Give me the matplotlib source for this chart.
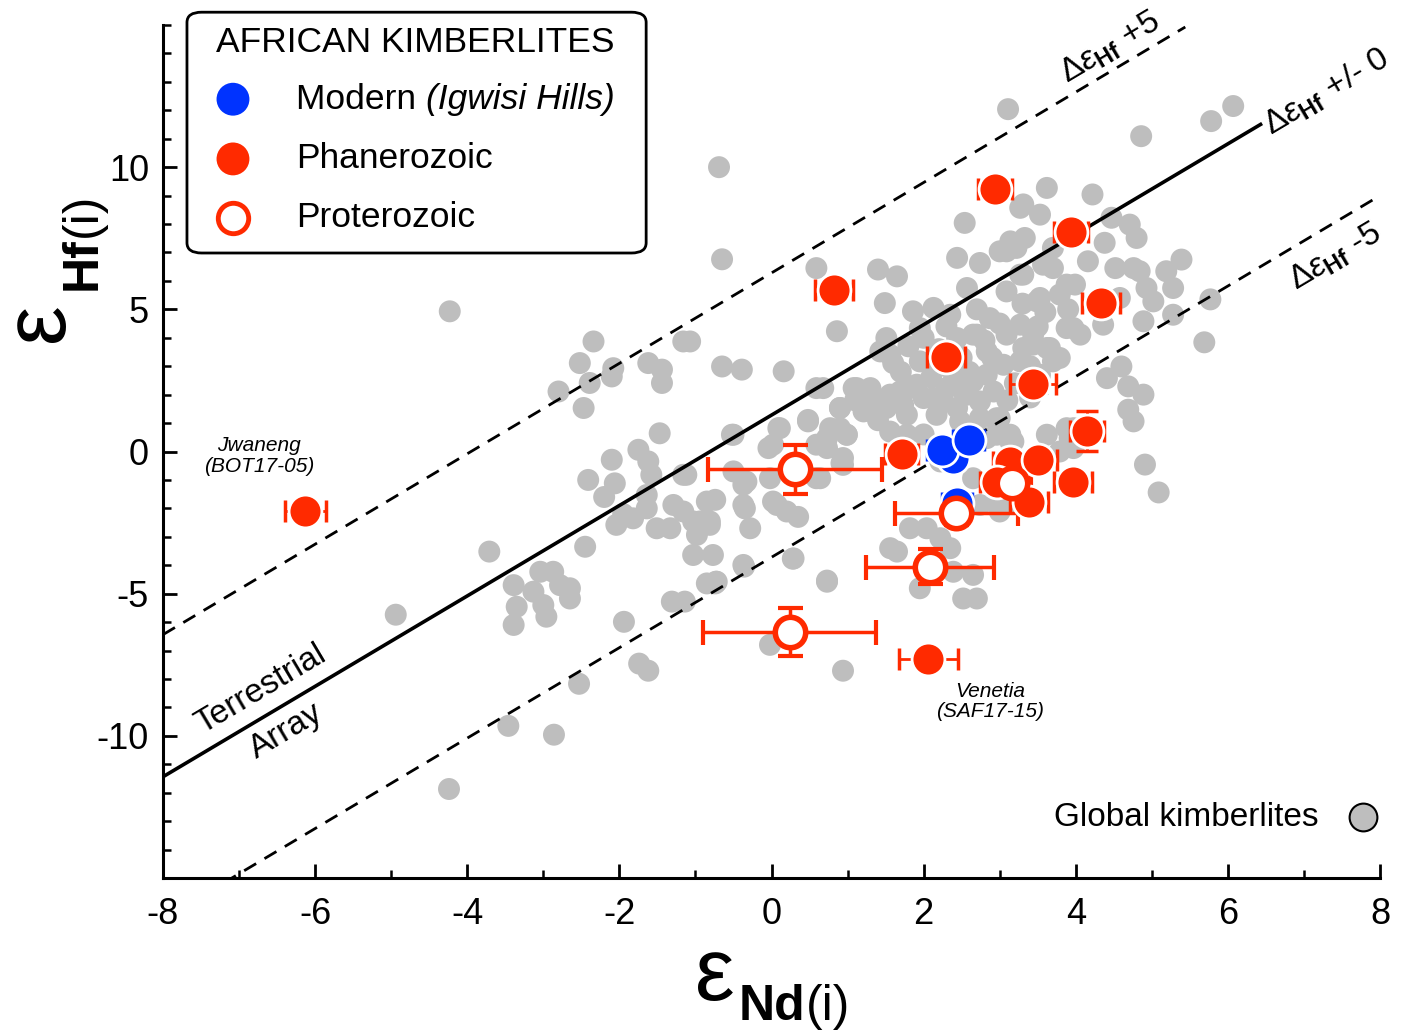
import numpy as np
import matplotlib
matplotlib.use("Agg")
import matplotlib.pyplot as plt
from matplotlib.patches import FancyBboxPatch
from matplotlib.ticker import MultipleLocator

plt.rcParams['font.family'] = ['Liberation Sans', 'DejaVu Sans']
plt.rcParams['mathtext.fontset'] = 'custom'
plt.rcParams['mathtext.rm'] = 'Liberation Sans'
plt.rcParams['mathtext.it'] = 'Liberation Sans:italic'
plt.rcParams['mathtext.bf'] = 'Liberation Sans:bold'
plt.rcParams['axes.unicode_minus'] = False

# ---------------- data ----------------
# Global kimberlites (grey)
global_nd = [-4.23, -4.24, -3.46, -2.86, -2.53, -4.94, -3.71, -0.69, -0.65, 3.11, 6.07, 5.78, 4.86,
             5.77, 5.69, 5.09, 4.91, 4.76, 0.94, -0.02, 0.73, 0.28, -1.62, -1.74, -1.94, -1.31, -1.14,
             -0.73, -0.36,
             -3.39, -3.35, -3.39, -3.04, -2.87, -2.78, -2.65, -2.65, -3.00, -2.96, -3.13, -2.45,
             -2.34, -2.52, -2.08, -2.10, -2.39, -2.80, -2.47, -1.16, -1.62, -1.44, -1.44, -1.47,
             -1.75, -1.62, -1.58, -2.10, -2.41, -2.06, -1.16, -1.64, -1.64, -2.04, -1.82, -1.51,
             -1.33, -1.29, -1.03, -1.03, -0.85, -0.85,
             0.59, 1.40, 1.65, 1.49, 0.86, -1.07, -0.65, -0.39, 0.16, 0.59, -0.52, 0.09, 0.48,
             0.90, 0.99, 0.77, 0.02, 0.59, 0.92, -0.50, -0.02, -0.37, 0.59, 0.02, 0.20, -0.74,
             -0.35, -0.28, -0.81, -0.98, -0.77, -0.37, -0.74, 0.29, 0.73,
             1.56, 1.78, 1.08, 1.30, 1.56, 1.73, 1.25, 1.38, 1.82, 2.00, 2.26, 2.44, 2.57, 2.74,
             2.96, 1.51, 1.56, 1.86, 2.13, 1.95, 2.35, 2.44, 2.70, 2.57, 2.44, 2.74, 2.54, 3.00,
             3.14, 3.27,
             3.22, 3.09, 3.31, 3.53, 3.70, 3.88, 3.97, 1.43, 1.60, 1.91, 1.95, 2.65, 2.87, 3.09,
             3.27, 3.44, 3.62, 3.79, 2.83, 3.05, 2.83, 2.65, 2.92, 2.74, 2.52, 2.30, 2.13, 1.69,
             1.51, 1.30, 1.12, 1.21, 1.78, 2.17, 2.48, 2.96, 2.96, 3.18, 0.90, 0.90, 0.73, 0.99,
             0.94, 0.68, 3.31, 3.53, 3.97,
             3.62, 4.22, 3.31, 3.53, 4.47, 4.71, 4.80, 4.38, 3.33, 3.09, 4.16, 3.70, 3.57, 3.27,
             4.52, 4.76, 4.84, 5.19, 5.39, 5.28, 4.93, 5.02, 5.28, 4.89, 3.99, 3.79, 3.49, 3.88,
             4.06, 4.36, 4.58, 3.66, 3.70, 3.44, 3.27, 4.60, 4.41, 4.69, 4.89, 4.69, 4.01, 3.88,
             3.00, 3.14,
             0.48, -0.50, 0.11, 0.73, -0.04, -0.33, 0.94, 0.64, -1.12, -0.37, 0.07, -1.16, -0.94,
             -0.81, -0.72, 1.56, 1.82, 2.04, 2.22, 2.35, 1.65, 1.95, 2.39, 2.65, 2.52, 2.70,
             3.92, 3.79, 2.83, 2.44, 2.22, 2.65, 2.92, 3.00, 3.18, 2.74, 3.14, 3.62, 3.97,
             2.20, 2.50, 2.80, 3.00, 2.30, 2.00, 2.60, 3.20, 3.40, 2.90, 2.40, 3.10, 1.80, 2.70,
             3.30, 3.60, 3.90, 3.50, 2.10, 1.70, 1.40, 1.10, 2.20, 3.40, 2.00, 0.35, -1.95, -2.20]
global_hf = [4.93, -11.87, -9.65, -9.96, -8.17, -5.74, -3.52, 10.00, 6.76, 12.04, 12.15, 11.62, 11.09,
             5.35, 3.84, -1.44, -0.46, 1.06, -7.71, -6.80, -4.54, -3.77, -7.71, -7.46, -5.99, -5.28, -5.28,
             -4.58, -4.05,
             -4.70, -5.46, -6.10, -4.23, -4.23, -4.70, -4.81, -5.17, -5.40, -5.81, -4.93, -3.35,
             3.87, 3.11, 2.93, 2.64, 2.41, 2.11, 1.53, 3.87, 3.11, 2.88, 2.41, 0.64,
             0.06, -0.35, -0.82, -0.29, -1.00, -1.12, -0.82, -1.53, -2.00, -2.58, -2.35, -2.70,
             -2.70, -1.88, -2.46, -3.64, -1.76, -4.64,
             6.45, 6.40, 6.16, 5.22, 4.23, 3.87, 2.99, 2.88, 2.82, 2.23, 0.59, 0.82, 1.06,
             1.53, 0.59, 0.82, 0.24, 0.24, -0.41, -0.70, -0.94, -1.17, -0.94, -1.76, -2.11, -1.70,
             -2.00, -2.70, -2.46, -2.93, -3.64, -3.99, -4.64, -3.76, -4.58,
             0.70, 0.59, 2.23, 2.23, 2.00, 1.64, 1.64, 1.29, 2.23, 1.88, 1.76, 1.53, 2.00, 1.17,
             1.06, 3.99, 3.40, 4.93, 5.05, 4.34, 4.81, 3.99, 4.11, 5.75, 6.81, 6.63, 8.04, 7.04,
             7.39, 8.57,
             7.16, 5.63, 6.22, 5.40, 6.45, 5.87, 4.34, 3.52, 3.11, 2.35, 3.17, 4.11, 4.69, 4.11,
             4.46, 4.11, 3.64, 3.29, 3.52, 3.05, 2.70, 2.46, 2.11, 1.76, 2.11, 2.23, 1.88, 2.11,
             1.53, 1.88, 2.23, 1.41, 1.29, 1.29, 1.06, 1.17, 0.59, 0.35, 1.53, 0.82, 0.47, 0.59,
             -0.23, 2.23, 3.64, 2.70, 0.82,
             9.27, 9.04, 8.69, 8.33, 8.22, 7.98, 7.51, 7.34, 7.51, 7.04, 6.69, 7.16, 6.57, 6.22,
             6.45, 6.45, 6.34, 6.34, 6.75, 5.75, 5.75, 5.28, 4.81, 4.58, 5.87, 5.52, 5.28, 4.34,
             4.11, 4.46, 5.40, 3.64, 3.17, 3.76, 3.17, 2.99, 2.58, 2.29, 2.00, 1.47, 0.35, 0.82,
             1.17, 0.35,
             1.11, 0.59, 0.82, 0.12, 0.12, -1.06, -0.47, -0.94, -0.82, -1.88, -1.88, -2.11, -2.46,
             -2.58, -4.58, -3.40, -2.70, -2.70, -3.05, -3.40, -3.52, -4.81, -4.23, -4.34, -5.17, -5.17,
             0.47, 0.00, 0.47, -0.23, -0.35, -0.94, -1.76, -2.11, -1.76, -1.88, 0.59, 0.59, 0.12,
             3.00, 3.30, 3.90, 4.50, 4.40, 4.00, 2.80, 2.40, 3.00, 3.30, 2.60, 1.80, 3.70, 5.00,
             5.20, 4.90, 5.00, 4.40, 2.60, 2.80, 1.10, 1.80, 3.60, 1.90, 0.60, -2.30, -2.20, -1.60]

# African kimberlites - Phanerozoic (filled red)
phan_nd = [-6.13, 0.82, 2.94, 3.94, 4.33, 2.29, 3.44, 1.71, 4.15, 3.96, 3.13, 3.51, 2.96, 3.38, 2.06]
phan_hf = [-2.08, 5.67, 9.23, 7.71, 5.21, 3.31, 2.36, -0.10, 0.72, -1.07, -0.38, -0.29, -1.06, -1.76, -7.29]
phan_xerr = [0.27, 0.25, 0.22, 0.22, 0.25, 0.25, 0.30, 0.22, 0.22, 0.25, 0.22, 0.25, 0.22, 0.25, 0.39]
phan_yerr = [0.0, 0.0, 0.0, 0.0, 0.0, 0.0, 0.0, 0.0, 0.70, 0.0, 0.0, 0.0, 0.0, 0.0, 0.0]

# Modern (Igwisi Hills) - blue
mod_nd = [2.39, 2.44, 2.24, 2.59]
mod_hf = [-0.24, -1.80, 0.06, 0.41]
mod_xerr = [0.15, 0.20, 0.20, 0.20]

# Proterozoic (open red)
prot_nd = [3.16, 0.31, 2.43, 2.08, 0.24]
prot_hf = [-1.12, -0.63, -2.15, -4.05, -6.34]
prot_xerr = [0.25, 1.14, 0.81, 0.84, 1.14]
prot_yerr = [0.0, 0.86, 0.45, 0.62, 0.85]

# Terrestrial array: eHf = 1.59 eNd + 1.28
ta_slope, ta_int = 1.59, 1.28
offsets = [5, 0, -5]
line_xmax = [5.44, 6.45, 7.97]

RED = '#FF2A00'
BLUE = '#0033FF'
GREY = '#BEBEBE'

fig = plt.figure(figsize=(14.08, 10.32), dpi=100)
ax = fig.add_axes([163/1408, 1-878/1032, (1380-163)/1408, (878-25)/1032])
ax.set_xlim(-8, 8)
ax.set_ylim(-15, 15)

# grey points
ax.scatter(global_nd, global_hf, s=250, c=GREY, edgecolors='none', zorder=2)

# reference lines
for off, xm in zip(offsets, line_xmax):
    xs = np.array([-8, xm])
    ys = ta_slope * xs + ta_int + off
    if off == 0:
        ax.plot(xs, ys, color='black', lw=2.6, zorder=3, solid_capstyle='butt')
    else:
        ax.plot(xs, ys, color='black', lw=2.0, dashes=(5, 3.5), zorder=3)

# error bars
ax.errorbar(phan_nd, phan_hf, xerr=phan_xerr, yerr=phan_yerr, fmt='none', ecolor=RED,
            elinewidth=2, capsize=8, capthick=2.5, zorder=4)
ax.errorbar(mod_nd, mod_hf, xerr=mod_xerr, fmt='none', ecolor=BLUE,
            elinewidth=2, capsize=8, capthick=2.5, zorder=4)
ax.errorbar(prot_nd, prot_hf, xerr=prot_xerr, yerr=prot_yerr, fmt='none', ecolor=RED,
            elinewidth=2.5, capsize=9, capthick=3, zorder=4)

ax.scatter(phan_nd, phan_hf, s=560, c=RED, edgecolors='white', linewidths=2, zorder=5)
ax.scatter(mod_nd, mod_hf, s=560, c=BLUE, edgecolors='white', linewidths=2, zorder=5)
ax.scatter(prot_nd, prot_hf, s=480, c='white', edgecolors=RED, linewidths=4, zorder=6)

# axes styling
for sp in ['top', 'right']:
    ax.spines[sp].set_visible(False)
for sp in ['left', 'bottom']:
    ax.spines[sp].set_linewidth(2.2)
ax.xaxis.set_major_locator(MultipleLocator(2))
ax.xaxis.set_minor_locator(MultipleLocator(1))
ax.yaxis.set_major_locator(MultipleLocator(5))
ax.yaxis.set_minor_locator(MultipleLocator(1))
ax.set_yticks([-10, -5, 0, 5, 10])
ax.tick_params(which='major', direction='in', length=10, width=2, labelsize=26, pad=10)
ax.tick_params(which='minor', direction='in', length=6, width=1.8)
ax.tick_params(axis='x', which='major', pad=14)

# ---- axis labels (big epsilon + subscript) ----
EPS_FS, SUB_FS = 64, 36
fig.text(735/1408, 1 - 1000/1032, '\u03b5', fontsize=EPS_FS, ha='right', va='baseline')
t_nd = fig.text(739/1408, 1 - 1020/1032, 'Nd', fontsize=SUB_FS, weight='bold',
                ha='left', va='baseline')
ax.annotate('(i)', xy=(1, 0), xycoords=t_nd, fontsize=SUB_FS, ha='left', va='bottom',
            annotation_clip=False)

fig.text(82/1408, 1 - 322/1032, '\u03b5', fontsize=EPS_FS, ha='right', va='center', rotation=90)
t_hf = fig.text(106/1408, 1 - 290/1032, 'Hf', fontsize=SUB_FS, weight='bold',
                ha='right', va='bottom', rotation=90)
ax.annotate('(i)', xy=(1, 1), xycoords=t_hf, fontsize=SUB_FS, ha='right', va='bottom',
            rotation=90, annotation_clip=False)

# line angle in screen coordinates
p1 = ax.transData.transform((0, ta_int))
p2 = ax.transData.transform((1, ta_int + ta_slope))
ang = np.degrees(np.arctan2(p2[1] - p1[1], p2[0] - p1[0]))

ax.text(4.45, 14.2, r'$\Delta\varepsilon_{\mathbf{Hf}}$ +5', fontsize=24, rotation=ang,
        ha='center', va='center', rotation_mode='anchor')
ax.text(7.3, 12.65, r'$\Delta\varepsilon_{\mathbf{Hf}}$ +/- 0', fontsize=24, rotation=ang,
        ha='center', va='center', rotation_mode='anchor')
ax.text(7.42, 6.85, r'$\Delta\varepsilon_{\mathbf{Hf}}$ -5', fontsize=24, rotation=ang,
        ha='center', va='center', rotation_mode='anchor')
ax.text(-6.72, -8.35, 'Terrestrial', fontsize=24, rotation=ang, ha='center', va='center',
        rotation_mode='anchor')
ax.text(-6.38, -9.85, 'Array', fontsize=24, rotation=ang, ha='center', va='center',
        rotation_mode='anchor')

ax.text(-6.74, -0.15, 'Jwaneng\n(BOT17-05)', fontsize=15, style='italic', ha='center',
        va='center', linespacing=1.1)
ax.text(2.87, -8.8, 'Venetia\n(SAF17-15)', fontsize=15, style='italic', ha='center',
        va='center', linespacing=1.1)

# Global kimberlites key
ax.text(0.9494, 0.0715, 'Global kimberlites', transform=ax.transAxes, fontsize=24,
        ha='right', va='center')
ax.scatter([0.986], [0.0715], s=400, c=GREY, edgecolors='black', linewidths=1.5,
           transform=ax.transAxes, clip_on=False, zorder=7)

# Legend box
box = FancyBboxPatch((0.0197, 0.7327), 0.397 - 0.0197, 1.015 - 0.7327,
                     boxstyle='round,pad=0,rounding_size=0.012', transform=ax.transAxes,
                     facecolor='white', edgecolor='black', linewidth=2, clip_on=False, zorder=8)
ax.add_patch(box)
ax.text(0.0436, 0.979, 'AFRICAN KIMBERLITES', transform=ax.transAxes, fontsize=25.5,
        ha='left', va='center', zorder=9)
leg_y = [0.913, 0.843, 0.774]
ax.scatter([0.0575], [leg_y[0]], s=560, c=BLUE, edgecolors='none', transform=ax.transAxes,
           clip_on=False, zorder=9)
ax.scatter([0.0575], [leg_y[1]], s=560, c=RED, edgecolors='none', transform=ax.transAxes,
           clip_on=False, zorder=9)
ax.scatter([0.0575], [leg_y[2]], s=480, c='white', edgecolors=RED, linewidths=3.5,
           transform=ax.transAxes, clip_on=False, zorder=9)
t_mod = ax.text(0.1093, leg_y[0], 'Modern ', transform=ax.transAxes, fontsize=25.5,
                ha='left', va='center', zorder=9)
ax.annotate('(Igwisi Hills)', xy=(1, 0.5), xycoords=t_mod, fontsize=25.5, style='italic',
            ha='left', va='center', zorder=9)
ax.text(0.1093, leg_y[1], 'Phanerozoic', transform=ax.transAxes, fontsize=25.5,
        ha='left', va='center', zorder=9)
ax.text(0.1093, leg_y[2], 'Proterozoic', transform=ax.transAxes, fontsize=25.5,
        ha='left', va='center', zorder=9)

fig.savefig('out.png', dpi=100)
